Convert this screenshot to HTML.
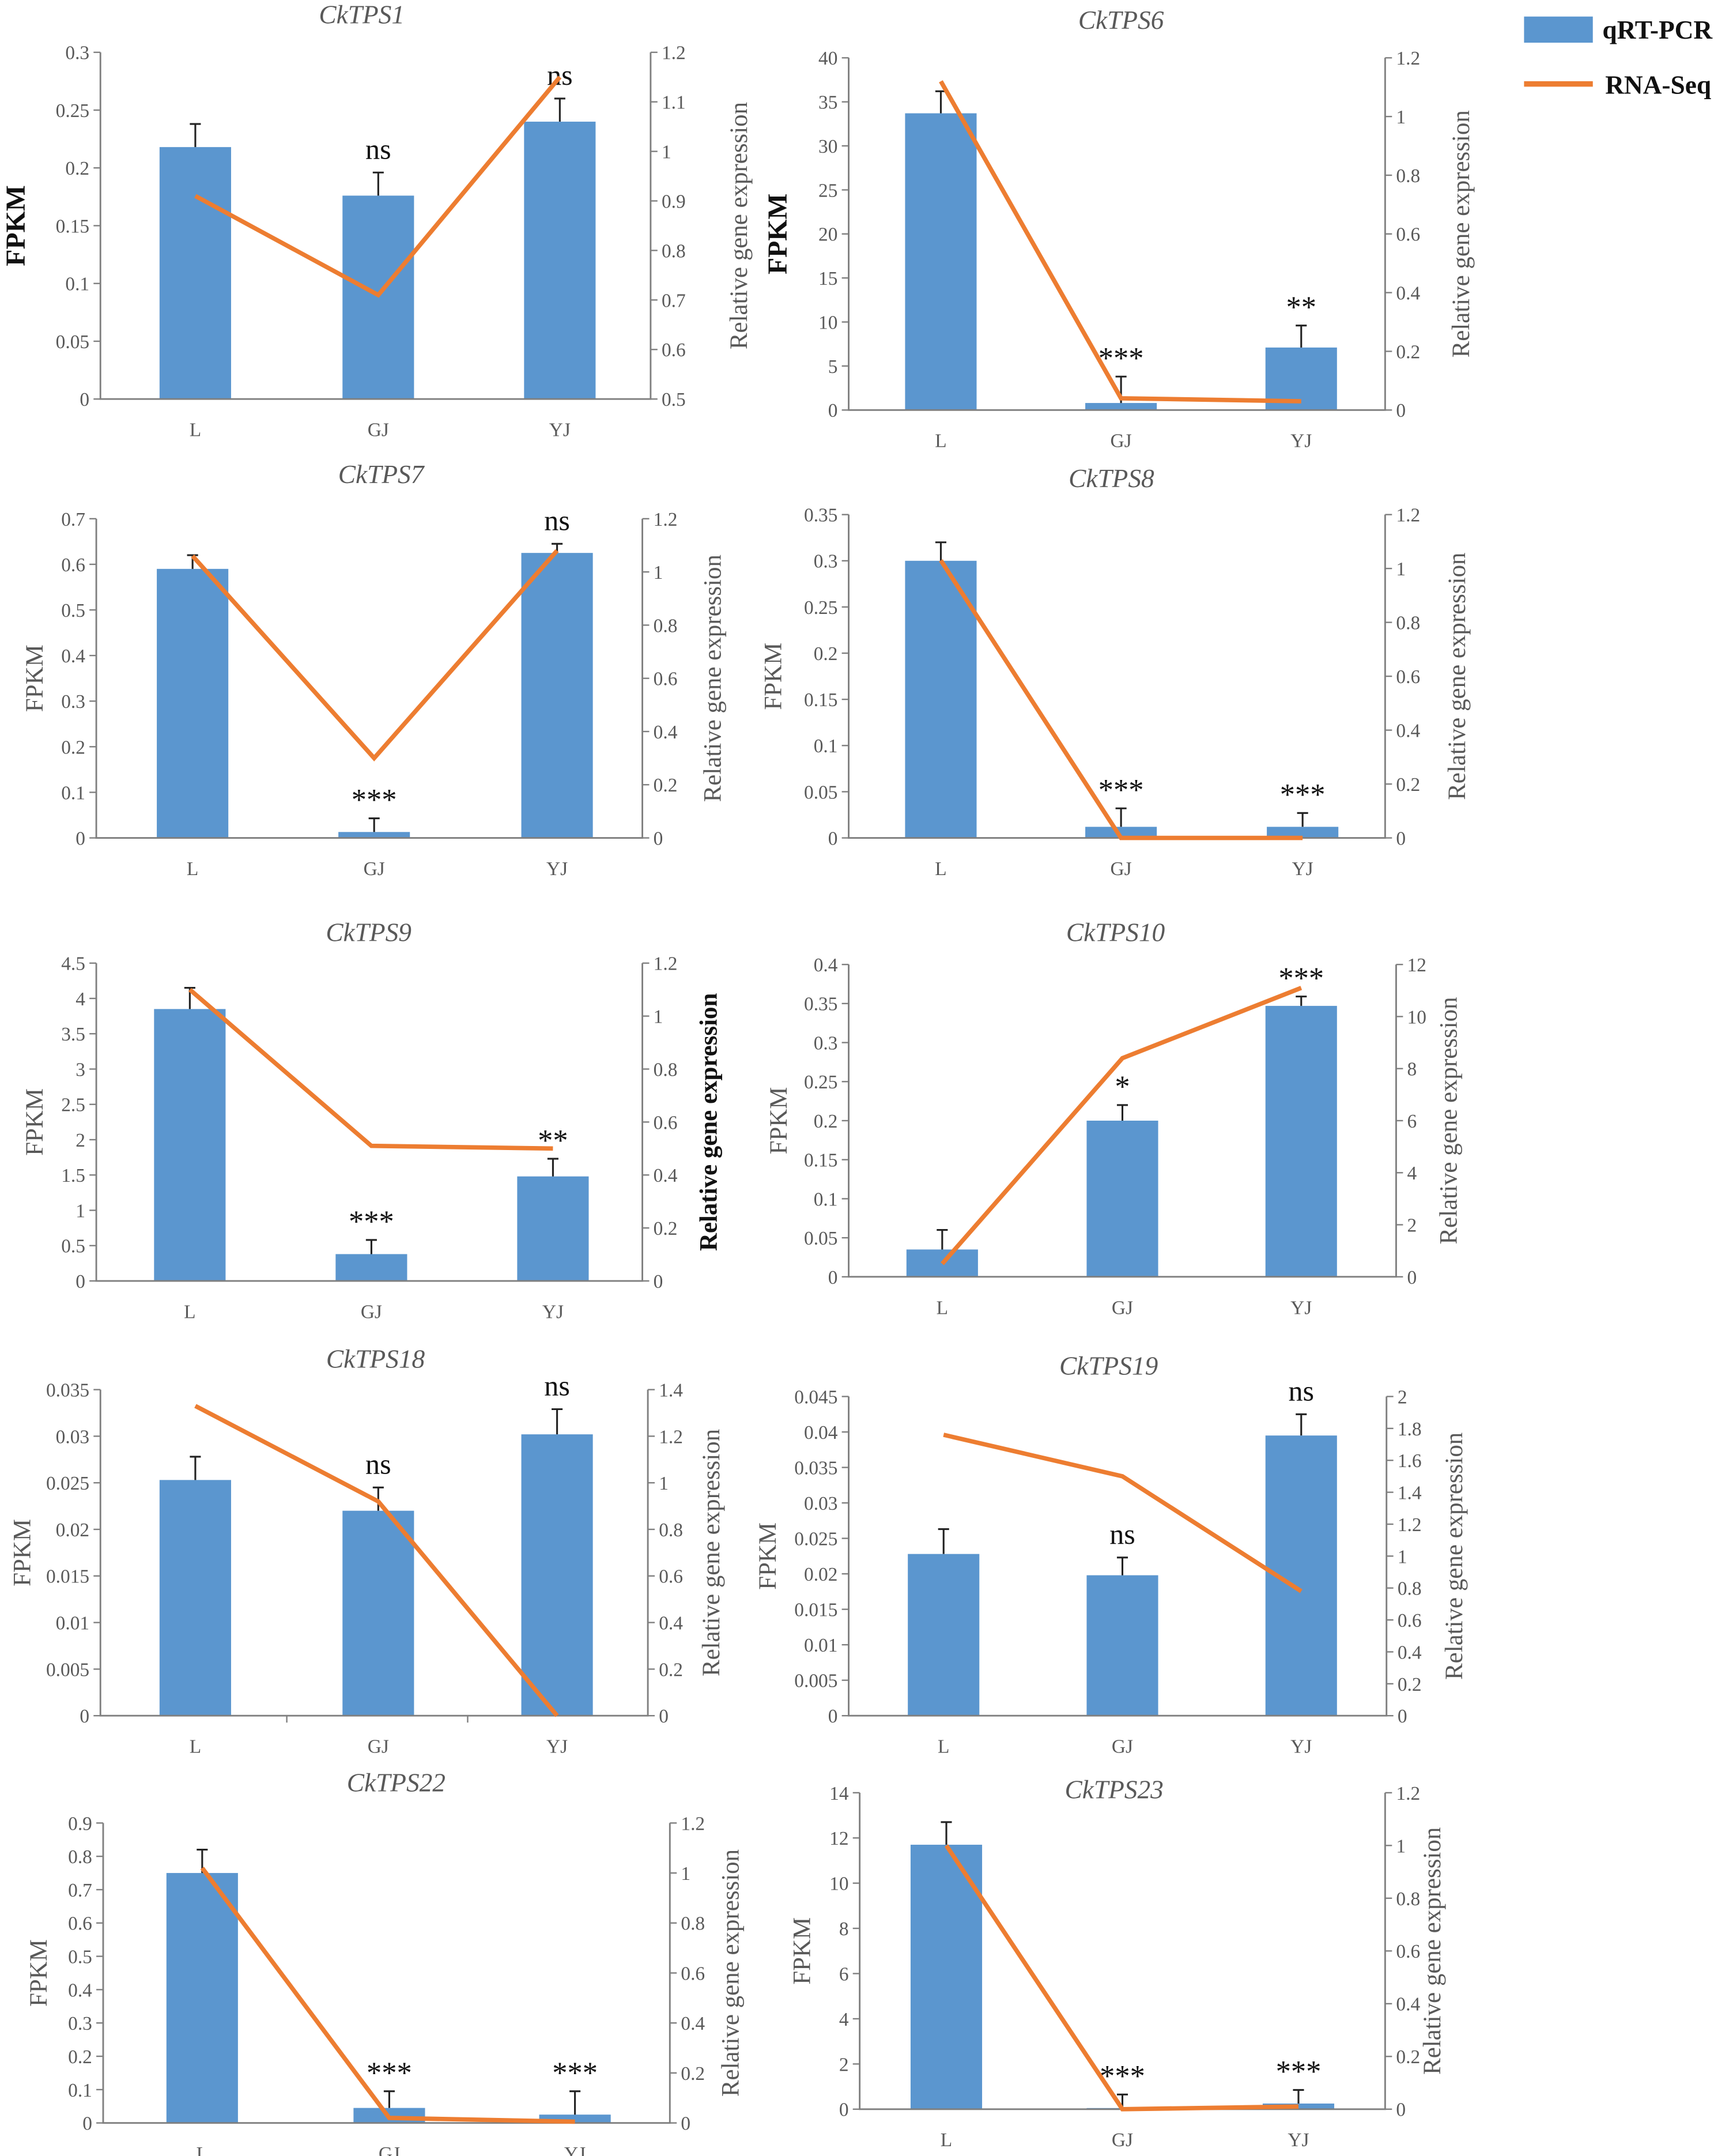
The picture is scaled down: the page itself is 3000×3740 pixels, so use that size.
<!DOCTYPE html>
<html><head><meta charset="utf-8"><style>
html,body{margin:0;padding:0;background:#fff}
svg{display:block}
text{font-family:"Liberation Serif",serif;fill:#595959}
</style></head><body>
<svg id="chart" width="3000" height="3740" viewBox="0 0 1257 1567" xmlns="http://www.w3.org/2000/svg">
<g>
<rect x="1108" y="12" width="50" height="19" fill="#5b96cf"/>
<text x="1165" y="28" font-size="19" font-weight="bold" style="fill:#111">qRT-PCR</text>
<line x1="1108" y1="61" x2="1158" y2="61" stroke="#ed7d31" stroke-width="4"/>
<text x="1167" y="68" font-size="19" font-weight="bold" style="fill:#111">RNA-Seq</text>
</g>
</svg>
<script>
const categories = ["L","GJ","YJ"];
const fpkmTPS1=[0.218,0.176,0.24], errTPS1=[0.02,0.02,0.02], rnaTPS1=[0.91,0.71,1.15], sigTPS1=["","ns","ns"];
const fpkmTPS6=[33.7,0.8,7.1], errTPS6=[2.5,3,2.5], rnaTPS6=[1.12,0.04,0.03], sigTPS6=["","***","**"];
const fpkmTPS7=[0.59,0.013,0.625], errTPS7=[0.03,0.03,0.02], rnaTPS7=[1.06,0.3,1.08], sigTPS7=["","***","ns"];
const fpkmTPS8=[0.3,0.012,0.012], errTPS8=[0.02,0.02,0.015], rnaTPS8=[1.03,0,0], sigTPS8=["","***","***"];
const fpkmTPS9=[3.85,0.38,1.48], errTPS9=[0.3,0.2,0.25], rnaTPS9=[1.1,0.51,0.5], sigTPS9=["","***","**"];
const fpkmTPS10=[0.035,0.2,0.347], errTPS10=[0.025,0.02,0.012], rnaTPS10=[0.5,8.4,11.1], sigTPS10=["","*","***"];
const fpkmTPS18=[0.0253,0.022,0.0302], errTPS18=[0.0025,0.0025,0.0027], rnaTPS18=[1.33,0.92,0.0], sigTPS18=["","ns","ns"];
const fpkmTPS19=[0.0228,0.0198,0.0395], errTPS19=[0.0035,0.0025,0.003], rnaTPS19=[1.76,1.5,0.78], sigTPS19=["","ns","ns"];
const fpkmTPS22=[0.75,0.045,0.025], errTPS22=[0.07,0.05,0.07], rnaTPS22=[1.02,0.02,0.005], sigTPS22=["","***","***"];
const fpkmTPS23=[11.7,0.05,0.25], errTPS23=[1,0.6,0.6], rnaTPS23=[1.0,0.0,0.01], sigTPS23=["","***","***"];
const leftTicksTPS1=[0,0.05,0.1,0.15,0.2,0.25,0.3], rightTicksTPS1=[0.5,0.6,0.7,0.8,0.9,1,1.1,1.2];
const leftTicksTPS6=[0,5,10,15,20,25,30,35,40], rightTicksTPS6=[0,0.2,0.4,0.6,0.8,1,1.2];
const leftTicksTPS7=[0,0.1,0.2,0.3,0.4,0.5,0.6,0.7], rightTicksTPS7=[0,0.2,0.4,0.6,0.8,1,1.2];
const leftTicksTPS8=[0,0.05,0.1,0.15,0.2,0.25,0.3,0.35], rightTicksTPS8=[0,0.2,0.4,0.6,0.8,1,1.2];
const leftTicksTPS9=[0,0.5,1,1.5,2,2.5,3,3.5,4,4.5], rightTicksTPS9=[0,0.2,0.4,0.6,0.8,1,1.2];
const leftTicksTPS10=[0,0.05,0.1,0.15,0.2,0.25,0.3,0.35,0.4], rightTicksTPS10=[0,2,4,6,8,10,12];
const leftTicksTPS18=[0,0.005,0.01,0.015,0.02,0.025,0.03,0.035], rightTicksTPS18=[0,0.2,0.4,0.6,0.8,1,1.2,1.4];
const leftTicksTPS19=[0,0.005,0.01,0.015,0.02,0.025,0.03,0.035,0.04,0.045], rightTicksTPS19=[0,0.2,0.4,0.6,0.8,1,1.2,1.4,1.6,1.8,2];
const leftTicksTPS22=[0,0.1,0.2,0.3,0.4,0.5,0.6,0.7,0.8,0.9], rightTicksTPS22=[0,0.2,0.4,0.6,0.8,1,1.2];
const leftTicksTPS23=[0,2,4,6,8,10,12,14], rightTicksTPS23=[0,0.2,0.4,0.6,0.8,1,1.2];

const NS="http://www.w3.org/2000/svg";
const svg=document.getElementById('chart');
function mk(tag,attrs,parent){const e=document.createElementNS(NS,tag);for(const k in attrs)e.setAttribute(k,attrs[k]);(parent||svg).appendChild(e);return e;}

const panels=[
 {id:"tps1",title:"CkTPS1",tx:263,ty:17,lx:73,rx:473,y0:290,y1:38,cx:[142,275,407],bold:true,fx:18,rlx:543,rbold:false,fpkm:fpkmTPS1,err:errTPS1,rna:rnaTPS1,sig:sigTPS1,lt:leftTicksTPS1,rt:rightTicksTPS1},
 {id:"tps6",title:"CkTPS6",tx:815,ty:21,lx:617,rx:1007,y0:298,y1:42,cx:[684,815,946],bold:true,fx:572,rlx:1068,fpkm:fpkmTPS6,err:errTPS6,rna:rnaTPS6,sig:sigTPS6,lt:leftTicksTPS6,rt:rightTicksTPS6},
 {id:"tps7",title:"CkTPS7",tx:277,ty:351,lx:70,rx:467,y0:609,y1:377,cx:[140,272,405],fx:31,rlx:524,fpkm:fpkmTPS7,err:errTPS7,rna:rnaTPS7,sig:sigTPS7,lt:leftTicksTPS7,rt:rightTicksTPS7},
 {id:"tps8",title:"CkTPS8",tx:808,ty:354,lx:617,rx:1007,y0:609,y1:374,cx:[684,815,947],fx:568,rlx:1065,fpkm:fpkmTPS8,err:errTPS8,rna:rnaTPS8,sig:sigTPS8,lt:leftTicksTPS8,rt:rightTicksTPS8},
 {id:"tps9",title:"CkTPS9",tx:268,ty:684,lx:70,rx:467,y0:931,y1:700,cx:[138,270,402],fx:31,rlx:521,rbold:true,fpkm:fpkmTPS9,err:errTPS9,rna:rnaTPS9,sig:sigTPS9,lt:leftTicksTPS9,rt:rightTicksTPS9},
 {id:"tps10",title:"CkTPS10",tx:811,ty:684,lx:617,rx:1015,y0:928,y1:701,cx:[685,816,946],fx:572,rlx:1059,fpkm:fpkmTPS10,err:errTPS10,rna:rnaTPS10,sig:sigTPS10,lt:leftTicksTPS10,rt:rightTicksTPS10},
 {id:"tps18",title:"CkTPS18",tx:273,ty:994,lx:73,rx:471,y0:1247,y1:1010,cx:[142,275,405],fx:22,rlx:523,fpkm:fpkmTPS18,err:errTPS18,rna:rnaTPS18,sig:sigTPS18,lt:leftTicksTPS18,rt:rightTicksTPS18,sep:true},
 {id:"tps19",title:"CkTPS19",tx:806,ty:999,lx:617,rx:1008,y0:1247,y1:1015,cx:[686,816,946],fx:564,rlx:1063,fpkm:fpkmTPS19,err:errTPS19,rna:rnaTPS19,sig:sigTPS19,lt:leftTicksTPS19,rt:rightTicksTPS19},
 {id:"tps22",title:"CkTPS22",tx:288,ty:1302,lx:75,rx:487,y0:1543,y1:1325,cx:[147,283,418],fx:34,rlx:537,fpkm:fpkmTPS22,err:errTPS22,rna:rnaTPS22,sig:sigTPS22,lt:leftTicksTPS22,rt:rightTicksTPS22},
 {id:"tps23",title:"CkTPS23",tx:810,ty:1307,lx:625,rx:1007,y0:1533,y1:1303,cx:[688,816,944],fx:589,rlx:1047,fpkm:fpkmTPS23,err:errTPS23,rna:rnaTPS23,sig:sigTPS23,lt:leftTicksTPS23,rt:rightTicksTPS23}
];
const ax="#7f7f7f";
panels.forEach(p=>{
 const g=mk('g',{});
 
 
 const lmin=p.lt[0],lmax=p.lt[p.lt.length-1],rmin=p.rt[0],rmax=p.rt[p.rt.length-1];
 const yl=v=>p.y0-(v-lmin)/(lmax-lmin)*(p.y0-p.y1);
 const yr=v=>p.y0-(v-rmin)/(rmax-rmin)*(p.y0-p.y1);
 const t=mk('text',{x:p.tx,y:p.ty,'font-size':19,'font-style':'italic','text-anchor':'middle'},g);t.textContent=p.title;
 
 
 p.fpkm.forEach((v,i)=>{
  const b=mk('rect',{x:p.cx[i]-26,y:yl(v),width:52,height:p.y0-yl(v),fill:'#5b96cf'},g);
  
  
  const top=yl(v+p.err[i]);
  const e=mk('path',{d:`M${p.cx[i]} ${yl(v)}V${top}M${p.cx[i]-4} ${top}H${p.cx[i]+4}`,stroke:'#222','stroke-width':1.3,fill:'none'},g);
  
  
  if(p.sig[i]){
   const s=mk('text',{x:p.cx[i],y:top-(p.sig[i]==='ns'?10:6),'font-size':p.sig[i]==='ns'?21:22,'text-anchor':'middle',style:'fill:#111'},g);
   s.textContent=p.sig[i];
   
   
  }
 });
 const a=mk('path',{d:`M${p.lx} ${p.y1}V${p.y0}H${p.rx}V${p.y1}`,stroke:ax,'stroke-width':1.2,fill:'none'},g);
 
 
 if(p.sep){[(p.cx[0]+p.cx[1])/2,(p.cx[1]+p.cx[2])/2].forEach(x=>mk('line',{x1:x,x2:x,y1:p.y0,y2:p.y0+5,stroke:ax},g));}
 p.lt.forEach(v=>{const y=yl(v);mk('line',{x1:p.lx-5,x2:p.lx,y1:y,y2:y,stroke:ax},g);
  const tt=mk('text',{x:p.lx-8,y:y+5,'font-size':14,'text-anchor':'end'},g);tt.textContent=String(v);
  
  });
 p.rt.forEach(v=>{const y=yr(v);mk('line',{x1:p.rx,x2:p.rx+5,y1:y,y2:y,stroke:ax},g);
  const tt=mk('text',{x:p.rx+8,y:y+5,'font-size':14},g);tt.textContent=String(v);
  
  });
 categories.forEach((c,i)=>{const tt=mk('text',{x:p.cx[i],y:p.y0+27,'font-size':14,'text-anchor':'middle'},g);tt.textContent=c;
  
  });
 const my=(p.y0+p.y1)/2;
 const f=mk('text',{x:p.fx,y:my,'font-size':p.bold?20:18,'font-weight':p.bold?'bold':'normal','text-anchor':'middle',transform:`rotate(-90 ${p.fx} ${my})`,style:p.bold?'fill:#111':''},g);
 f.textContent='FPKM';
 
 
 const r=mk('text',{x:p.rlx,y:my,'font-size':18,'font-weight':p.rbold?'bold':'normal','text-anchor':'middle',transform:`rotate(-90 ${p.rlx} ${my})`,style:p.rbold?'fill:#111':''},g);
 r.textContent='Relative gene expression';
 
 
 const pts=p.rna.map((v,i)=>p.cx[i]+','+yr(v)).join(' ');
 const l=mk('polyline',{points:pts,fill:'none',stroke:'#ed7d31','stroke-width':3.2},g);
 
 
});
</script>
</body></html>
